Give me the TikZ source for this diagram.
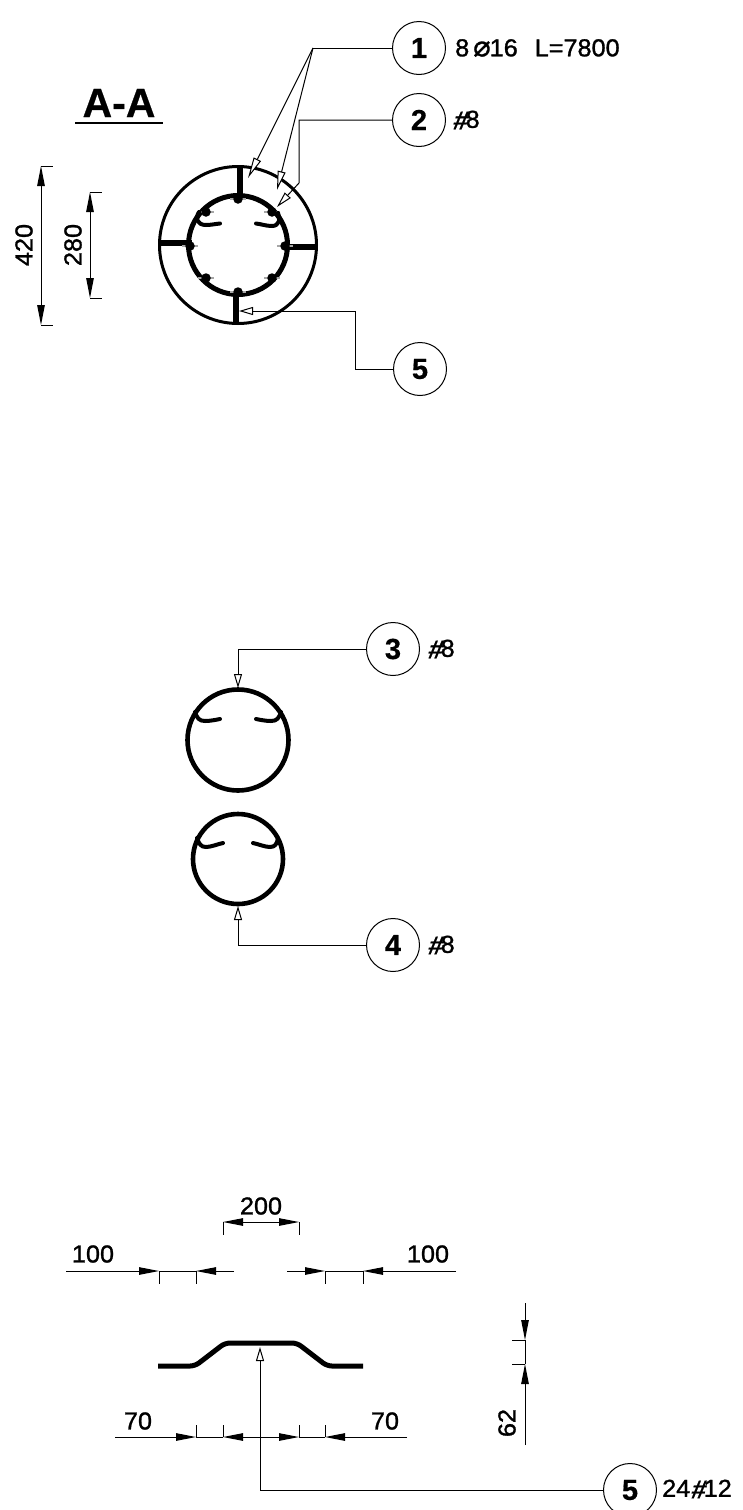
\documentclass[tikz,border=0pt]{standalone}
\usepackage{fontspec}
\setmainfont{Liberation Sans}
\newfontfamily\dimf[FakeStretch=1.03,FakeBold=1.2]{Liberation Sans}
\newfontfamily\hashf[FakeSlant=0.2,FakeBold=0.5]{Liberation Sans Bold}
\newfontfamily\djv[FakeBold=1]{DejaVu Sans}
\newfontfamily\tagf[FakeBold=0.6]{Liberation Sans Bold}
\usetikzlibrary{arrows.meta}
\tikzset{
 thinline/.style={line width=1pt,black},
 lead/.style={line width=1pt,black,-{Triangle[open,fill=white,length=#1,width=8pt]}},
 lead/.default=20pt,
 dimarrow/.style={line width=1pt,black,-{Triangle[length=20pt,width=7.5pt]}},
 bar/.style={line width=5.5pt,black},
 rebar/.style={line width=4.6pt,black,line join=round},
 hook/.style={line width=4pt,black,line cap=round},
 dot/.style={circle,fill=black,inner sep=0pt,minimum size=9.5pt},
 hair/.style={line width=1.6pt,black!35},
 tag/.style={circle,draw,line width=1pt,minimum size=53pt,inner sep=0pt,font=\fontsize{29}{29}\tagf},
 lbl/.style={inner sep=0pt,font=\fontsize{24.5}{24.5}\dimf},
}
\newcommand{\hsh}{\raisebox{-1.5pt}{\fontsize{26}{26}\hashf\#}\kern-1pt}
\begin{document}
\begin{tikzpicture}[x=1pt,y=-1pt]
\useasboundingbox (0,0) rectangle (742,1510);

% ===== Section A-A =====
\node[inner sep=0pt,font=\fontsize{41}{41}\tagf] (title) at (119,103) {A-A};
\coordinate (ulA) at (75,123); \coordinate (ulB) at (163,123);
\draw[line width=2.5pt] (ulA) -- (ulB);

\coordinate (cA) at (238,245);
\draw[line width=3pt] (cA) circle[radius=78.5pt];
\draw[line width=5pt] (cA) circle[radius=49.5pt];
\draw[bar] (240,166) -- (240,197);
\draw[bar] (160,243) -- (192,243);
\draw[bar] (286,247) -- (317,247);
\draw[bar] (236,293) -- (236,324);
\foreach \x/\y in {238/199,206/212,272/212,190/246,285/246,206/278,272/278,238/292}{
  \draw[hair] (\x-8,\y) -- (\x+8,\y);
  \node[dot] at (\x,\y) {};
}
\draw[hook] (199,212) .. controls (195,218) and (197,225) .. (206,225) .. controls (211,225) and (215,224) .. (220,223.5);
\draw[hook] (256,223.5) .. controls (261,224) and (266,226) .. (272,226) .. controls (279,226) and (281,219) .. (278,213);

% dimensions 420 / 280
\coordinate (d1a) at (41,166); \coordinate (d1b) at (41,325);
\coordinate (d1at) at (53,166); \coordinate (d1bt) at (53,325);
\draw[dimarrow] (41,245) -- (d1a);
\draw[dimarrow] (41,245) -- (d1b);
\draw[thinline] (d1a) -- (d1at); \draw[thinline] (d1b) -- (d1bt);
\node[lbl,rotate=90] (l420) at (24,245) {420};
\coordinate (d2a) at (90,192); \coordinate (d2b) at (90,298);
\coordinate (d2at) at (102,192); \coordinate (d2bt) at (102,298);
\draw[dimarrow] (90,245) -- (d2a);
\draw[dimarrow] (90,245) -- (d2b);
\draw[thinline] (d2a) -- (d2at); \draw[thinline] (d2b) -- (d2bt);
\node[lbl,rotate=90] (l280) at (73,245) {280};

% tags top
\node[tag] (t1) at (419,48) {1};
\node[lbl,anchor=west] (t1txt) at (455,48) {8\kern4pt{\fontsize{29}{29}\djv ⌀}\kern-1pt 16\kern17pt L=7800};
\node[tag] (t2) at (419,120) {2};
\node[lbl,anchor=west] (t2txt) at (452,120) {\hsh 8};
\node[tag] (t5) at (420,369) {5};

\coordinate (j1) at (313,48);
\coordinate (tip1a) at (248,178); \coordinate (tip1b) at (277,190);
\draw[thinline] (t1.west) -- (j1);
\draw[lead=21pt] (j1) -- (tip1a);
\draw[lead=19pt] (j1) -- (tip1b);
\coordinate (j2) at (299,120); \coordinate (j2b) at (299,183); \coordinate (tip2) at (277,207);
\draw[lead=16pt] (t2.west) -- (j2) -- (j2b) -- (tip2);
\coordinate (j5a) at (355,369); \coordinate (j5b) at (355,311); \coordinate (tip5) at (239,311);
\draw[lead=14pt] (t5.west) -- (j5a) -- (j5b) -- (tip5);

% ===== Hoops =====
\coordinate (c3) at (238,740);
\draw[rebar] (c3) circle[radius=50.5pt];
\draw[hook] (195,712) .. controls (197,718) and (199,721) .. (205,721) .. controls (210,721) and (215,720) .. (220,719);
\draw[hook] (256,719) .. controls (261,720) and (266,721) .. (271,721) .. controls (277,721) and (279,718) .. (281,712);
\coordinate (c4) at (238,859);
\draw[rebar] (c4) circle[radius=45pt];
\draw[hook] (197,838) .. controls (199,844) and (201,847) .. (206,847) .. controls (211,847) and (218,844) .. (223,843);
\draw[hook] (253,843) .. controls (258,844) and (265,847) .. (270,847) .. controls (275,847) and (277,844) .. (278,838);

\node[tag] (t3) at (393,649) {3};
\node[lbl,anchor=west] (t3txt) at (427,649) {\hsh 8};
\node[tag] (t4) at (393,945) {4};
\node[lbl,anchor=west] (t4txt) at (427,945) {\hsh 8};
\coordinate (j3) at (238,649); \coordinate (tip3) at (238,688);
\draw[lead=14pt] (t3.west) -- (j3) -- (tip3);
\coordinate (j4) at (238,945); \coordinate (tip4) at (238,906);
\draw[lead=14pt] (t4.west) -- (j4) -- (tip4);

% ===== Spacer bar =====
\draw[line width=5pt,black,rounded corners=5pt] (158,1366) -- (195,1366) -- (225,1343) -- (297,1343) -- (327,1366) -- (363,1366);

% 200
\coordinate (a1) at (223,1222); \coordinate (a2) at (299,1222);
\draw[dimarrow] (261,1222) -- (a1);
\draw[dimarrow] (261,1222) -- (a2);
\draw[thinline] (a1) -- (223,1235); \draw[thinline] (a2) -- (299,1235);
\node[lbl] (l200) at (261,1206) {200};
% 100 left
\coordinate (b1) at (159,1271); \coordinate (b2) at (196,1271);
\draw[dimarrow] (66,1271) -- (b1);
\draw[dimarrow] (234,1271) -- (b2);
\draw[thinline] (b1) -- (b2);
\draw[thinline] (b1) -- (159,1284); \draw[thinline] (b2) -- (196,1284);
\node[lbl] (l100a) at (93,1254) {100};
% 100 right
\coordinate (b3) at (325,1271); \coordinate (b4) at (363,1271);
\draw[dimarrow] (287,1271) -- (b3);
\draw[dimarrow] (456,1271) -- (b4);
\draw[thinline] (b3) -- (b4);
\draw[thinline] (b3) -- (325,1284); \draw[thinline] (b4) -- (363,1284);
\node[lbl] (l100b) at (428,1254) {100};
% 70 70
\coordinate (e1) at (196,1437); \coordinate (e2) at (223,1437);
\coordinate (e3) at (299,1437); \coordinate (e4) at (325,1437);
\draw[dimarrow] (115,1437) -- (e1);
\draw[thinline] (e1) -- (e2);
\draw[dimarrow] (261,1437) -- (e2);
\draw[dimarrow] (261,1437) -- (e3);
\draw[thinline] (e3) -- (e4);
\draw[dimarrow] (407,1437) -- (e4);
\foreach \n/\x in {e1/196,e2/223,e3/299,e4/325}{\draw[thinline] (\n) -- (\x,1425);}
\node[lbl] (l70a) at (138,1421) {70};
\node[lbl] (l70b) at (385,1421) {70};
% 62
\coordinate (f1) at (525,1340); \coordinate (f2) at (525,1364);
\draw[dimarrow] (525,1303) -- (f1);
\draw[thinline] (f1) -- (f2);
\draw[dimarrow] (525,1445) -- (f2);
\draw[thinline] (f1) -- (512,1340); \draw[thinline] (f2) -- (512,1364);
\node[lbl,rotate=90] (l62) at (507,1423) {62};
% tag 5 bottom
\node[tag] (t6) at (630,1490) {5};
\node[lbl,anchor=west] (t6txt) at (662,1489) {24\hsh 12};
\coordinate (j6) at (260,1490); \coordinate (tip6) at (260,1347);
\draw[lead=14pt] (t6.west) -- (j6) -- (tip6);
\end{tikzpicture}
\end{document}
